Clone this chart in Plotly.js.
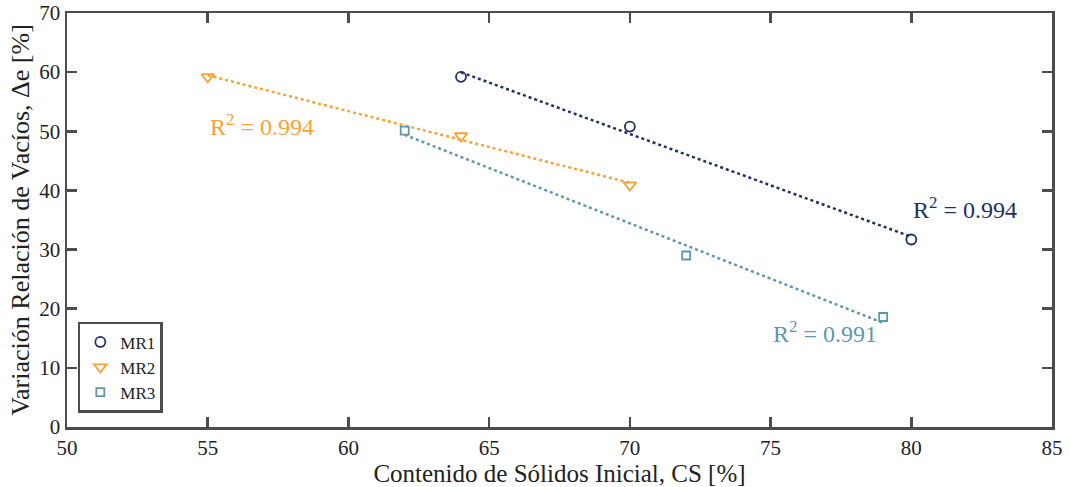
<!DOCTYPE html>
<html><head><meta charset="utf-8">
<script src="https://cdn.plot.ly/plotly-3.0.1.min.js"></script>
<style>html,body{margin:0;padding:0;background:#fff}#c{width:1070px;height:487px}</style>
</head><body><div id="c"></div>
<script>
const seriesNames = ["MR1", "MR2", "MR3"];
const mr1X = [64, 70, 80];
const mr1Y = [59.2, 50.8, 31.7];
const mr2X = [55, 64, 70];
const mr2Y = [59.2, 49.2, 40.9];
const mr3X = [62, 72, 79];
const mr3Y = [50.1, 29.0, 18.6];
const r2Labels = ["0.994", "0.994", "0.991"];
const xTicks = [50, 55, 60, 65, 70, 75, 80, 85];
const yTicks = [0, 10, 20, 30, 40, 50, 60, 70];

const colors = ["#22315e", "#f7a335", "#5f97ab"];
const symbols = ["circle-open", "triangle-down-open", "square-open"];
const sizes = [10, 11, 8];
const FONT = "Liberation Serif, DejaVu Serif, serif";

function fit(xs, ys) {
  const n = xs.length;
  const mx = xs.reduce((a,b)=>a+b,0)/n, my = ys.reduce((a,b)=>a+b,0)/n;
  let sxy=0, sxx=0;
  for (let i=0;i<n;i++){ sxy+=(xs[i]-mx)*(ys[i]-my); sxx+=(xs[i]-mx)**2; }
  const m = sxy/sxx, b = my - m*mx;
  const x0 = Math.min(...xs), x1 = Math.max(...xs);
  return {x:[x0,x1], y:[m*x0+b, m*x1+b]};
}

const data = [[mr1X,mr1Y],[mr2X,mr2Y],[mr3X,mr3Y]];
const traces = [];
data.forEach((d,i)=>{
  const f = fit(d[0], d[1]);
  traces.push({x:f.x, y:f.y, mode:"lines", showlegend:false, hoverinfo:"skip",
    line:{color:colors[i], dash:"dot", width:2.5}});
});
data.forEach((d,i)=>{
  traces.push({x:d[0], y:d[1], mode:"markers", name:seriesNames[i],
    marker:{symbol:symbols[i], size:sizes[i], color:colors[i], line:{width:1.8, color:colors[i]}}});
});

const annPos = [[80.0, 37.0], [55.0, 51.0], [75.0, 16.0]];
const annotations = annPos.map((p,i)=>({
  x:p[0], y:p[1], xref:"x", yref:"y", xanchor:"left", yanchor:"middle", showarrow:false,
  text:"R<sup>2</sup> = " + r2Labels[i], font:{family:FONT, size:24, color:colors[i]}
}));

const axisCommon = {
  showgrid:false, zeroline:false, showline:true, linecolor:"#4d4d4d", linewidth:2.5,
  mirror:"ticks", ticks:"inside", ticklen:10, tickwidth:2.5, tickcolor:"#4d4d4d",
  tickfont:{family:FONT, size:21, color:"#222"}
};

const layout = {
  width:1070, height:487,
  margin:{l:67, r:18, t:13, b:60},
  paper_bgcolor:"#fff", plot_bgcolor:"#fff",
  font:{family:FONT},
  xaxis:Object.assign({}, axisCommon, {range:[50,85], tickvals:xTicks,
    title:{text:"Contenido de Sólidos Inicial, CS [%]", font:{family:FONT, size:25, color:"#222"}, standoff:0}}),
  yaxis:Object.assign({}, axisCommon, {range:[0,70], tickvals:yTicks,
    title:{text:"Variación Relación de Vacíos, Δe [%]", font:{family:FONT, size:26, color:"#222"}, standoff:2}}),
  legend:{x:0.011, y:0.034, xanchor:"left", yanchor:"bottom", bgcolor:"#fff",
    bordercolor:"#4d4d4d", borderwidth:2.5, font:{family:FONT, size:17, color:"#222"},
    tracegroupgap:0, itemwidth:30},
  annotations:annotations
};

Plotly.newPlot("c", traces, layout, {displayModeBar:false, staticPlot:true});
</script></body></html>
